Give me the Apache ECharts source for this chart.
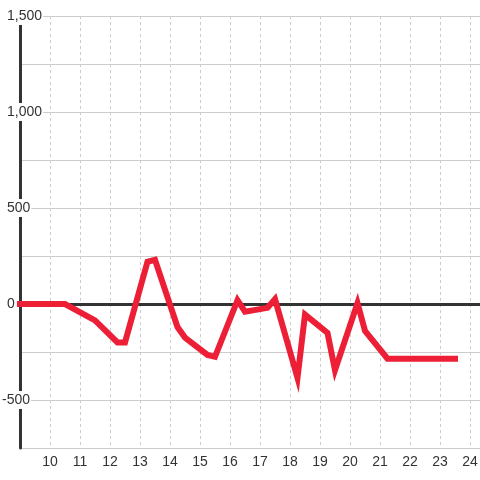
<!DOCTYPE html>
<html>
<head>
<meta charset="utf-8">
<script src="https://cdn.jsdelivr.net/npm/echarts@6/dist/echarts.min.js"></script>
<style>html,body{margin:0;padding:0;background:#fff}#c{width:480px;height:480px}</style>
</head>
<body>
<div id="c"></div>
<script>
const xValues = [9, 10.5, 11.5, 12.25, 12.5, 13.25, 13.5, 14.25, 14.5, 15.25, 15.5, 16.25, 16.5, 17.25, 17.5, 18.25, 18.5, 19.25, 19.5, 20.25, 20.5, 21.25, 23.5];
const yValues = [0, 0, -85, -200, -200, 220, 230, -120, -175, -265, -275, 20, -40, -20, 25, -385, -55, -150, -345, 5, -140, -285, -285];
const xTicks = [10, 11, 12, 13, 14, 15, 16, 17, 18, 19, 20, 21, 22, 23, 24];
const yTicks = [-500, 0, 500, 1000, 1500];

const chart = echarts.init(document.getElementById('c'), null, {renderer: 'canvas'});
const font = "'Liberation Sans', Arial, sans-serif";
chart.setOption({
  animation: false,
  backgroundColor: '#ffffff',
  grid: {left: 20, right: 0, top: 16, bottom: 32, containLabel: false, outerBoundsMode: 'none'},
  xAxis: [{
    type: 'value', min: 9, max: 9 + 460 / 30, interval: 1,
    axisLine: {show: true, onZero: true, lineStyle: {color: '#333', width: 3}},
    axisTick: {show: false}, axisLabel: {show: false}, splitLine: {show: false}
  }, {
    type: 'value', position: 'bottom', min: 9, max: 9 + 460 / 30, interval: 1,
    axisLine: {show: false, onZero: false}, axisTick: {show: false},
    axisLabel: {
      margin: 7, fontSize: 14, color: '#333', fontFamily: font,
      formatter: v => xTicks.includes(v) ? String(v) : ''
    },
    splitLine: {show: true, lineStyle: {color: '#ccc', width: 1, type: [3, 3]}}
  }],
  yAxis: {
    type: 'value', min: -750, max: 1500, interval: 250,
    axisLine: {show: true, onZero: false, lineStyle: {color: '#333', width: 3}},
    axisTick: {show: false},
    splitLine: {show: true, lineStyle: {color: '#ccc', width: 1}},
    axisLabel: {
      align: 'left', margin: 18, fontFamily: font,
      formatter: v => yTicks.includes(v) ? (v < 0 ? '{n|' : '{a|') + v.toLocaleString('en-US') + '}' : '',
      rich: {
        a: {fontSize: 14, color: '#333', fontFamily: font, backgroundColor: '#fff', padding: [2, 1, 2, 5]},
        n: {fontSize: 14, color: '#333', fontFamily: font, backgroundColor: '#fff', padding: [2, 1, 2, 0]}
      }
    }
  },
  series: [{
    type: 'line', xAxisIndex: 1,
    data: xValues.map((x, i) => [x, yValues[i]]),
    showSymbol: false, symbol: 'none', clip: false,
    lineStyle: {color: '#ec1f37', width: 6, join: 'miter', cap: 'square'},
    z: 3
  }]
});
</script>
</body>
</html>
